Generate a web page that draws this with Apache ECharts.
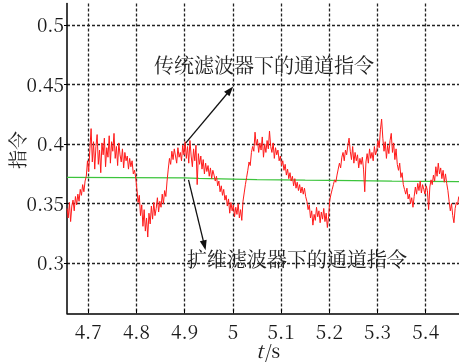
<!DOCTYPE html>
<html>
<head>
<meta charset="utf-8">
<script src="https://cdn.jsdelivr.net/npm/echarts@6/dist/echarts.min.js"></script>
<style>
  html, body { margin: 0; padding: 0; background: #fff; }
  #chart { width: 459px; height: 362px; }
</style>
</head>
<body>
<div id="chart"></div>
<script>
// Sampling grid of the traditional-filter channel command (seconds)
var tStart = 4.656;
var tStep = 0.0025;

// Channel command under the traditional filter (red, noisy)
var traditionalCmd = [
  0.346, 0.338, 0.351, 0.335, 0.348, 0.353, 0.344, 0.356, 0.349, 0.358,
  0.352, 0.362, 0.357, 0.366, 0.360, 0.369, 0.373, 0.386, 0.377, 0.396,
  0.413, 0.385, 0.402, 0.379, 0.398, 0.408, 0.383, 0.395, 0.376, 0.401,
  0.391, 0.405, 0.381, 0.397, 0.389, 0.407, 0.384, 0.402, 0.394, 0.409,
  0.388, 0.398, 0.382, 0.401, 0.391, 0.385, 0.396, 0.380, 0.393, 0.386,
  0.390, 0.379, 0.388, 0.381, 0.386, 0.375, 0.378, 0.372, 0.362, 0.351,
  0.357, 0.340, 0.349, 0.331, 0.345, 0.327, 0.338, 0.322, 0.342, 0.333,
  0.348, 0.337, 0.351, 0.340, 0.346, 0.355, 0.343, 0.352, 0.347, 0.358,
  0.350, 0.361, 0.356, 0.369, 0.379, 0.388, 0.383, 0.394, 0.387, 0.396,
  0.390, 0.384, 0.397, 0.389, 0.393, 0.386, 0.399, 0.391, 0.402, 0.388,
  0.398, 0.384, 0.403, 0.390, 0.381, 0.396, 0.386, 0.399, 0.366, 0.392,
  0.383, 0.390, 0.379, 0.387, 0.375, 0.384, 0.377, 0.382, 0.373, 0.380,
  0.371, 0.378, 0.374, 0.369, 0.373, 0.365, 0.369, 0.360, 0.365, 0.357,
  0.362, 0.353, 0.357, 0.348, 0.354, 0.342, 0.351, 0.344, 0.349, 0.339,
  0.347, 0.341, 0.350, 0.338, 0.345, 0.336, 0.352, 0.359, 0.366, 0.372,
  0.378, 0.385, 0.382, 0.393, 0.398, 0.394, 0.410, 0.399, 0.404, 0.393,
  0.401, 0.395, 0.406, 0.389, 0.400, 0.393, 0.403, 0.396, 0.411, 0.398,
  0.393, 0.401, 0.388, 0.397, 0.391, 0.395, 0.386, 0.390, 0.382, 0.386,
  0.378, 0.383, 0.374, 0.379, 0.371, 0.376, 0.369, 0.373, 0.365, 0.371,
  0.363, 0.368, 0.361, 0.366, 0.359, 0.364, 0.358, 0.363, 0.356, 0.352,
  0.345, 0.349, 0.338, 0.344, 0.332, 0.341, 0.336, 0.347, 0.339, 0.344,
  0.334, 0.343, 0.337, 0.346, 0.335, 0.342, 0.330, 0.339, 0.353, 0.358,
  0.362, 0.366, 0.370, 0.368, 0.374, 0.379, 0.384, 0.380, 0.389, 0.393,
  0.386, 0.395, 0.391, 0.399, 0.405, 0.394, 0.387, 0.398, 0.384, 0.393,
  0.386, 0.391, 0.380, 0.388, 0.383, 0.389, 0.379, 0.360, 0.385, 0.392,
  0.384, 0.396, 0.388, 0.393, 0.386, 0.398, 0.391, 0.395, 0.403, 0.397,
  0.412, 0.421, 0.405, 0.394, 0.402, 0.388, 0.399, 0.392, 0.403, 0.409,
  0.393, 0.401, 0.387, 0.396, 0.383, 0.378, 0.384, 0.372, 0.376, 0.366,
  0.362, 0.358, 0.363, 0.354, 0.358, 0.350, 0.355, 0.347, 0.356, 0.364,
  0.358, 0.367, 0.361, 0.369, 0.359, 0.366, 0.362, 0.358, 0.365, 0.361,
  0.345, 0.364, 0.370, 0.366, 0.374, 0.369, 0.381, 0.373, 0.384, 0.375,
  0.380, 0.371, 0.378, 0.368, 0.375, 0.367, 0.361, 0.352, 0.344, 0.350,
  0.340, 0.334, 0.346, 0.351, 0.349, 0.356
];

// Channel command under the extended-dimension filter (green, smooth)
var extendedTimes = [4.656, 4.90, 4.93, 5.00, 5.05, 5.15, 5.25, 5.33, 5.40, 5.469];
var extendedCmd   = [0.3720, 0.3716, 0.3712, 0.3706, 0.3702, 0.3697, 0.3694, 0.3690, 0.3688, 0.3685];

// Axis ticks
var xTicks = [4.7, 4.8, 4.9, 5.0, 5.1, 5.2, 5.3, 5.4];
var yTicks = [0.3, 0.35, 0.4, 0.45, 0.5];

// Annotation labels and arrows (data coordinates)
var labelTop = { text: '传统滤波器下的通道指令', at: [5.0645, 0.4664] };
var labelBottom = { text: '扩维滤波器下的通道指令', at: [5.133, 0.3029] };
var arrowTop = { from: [4.9025, 0.4010], to: [4.994, 0.4452] };
var arrowBottom = { from: [4.908, 0.3700], to: [4.941, 0.3150] };

var redData = traditionalCmd.map(function (v, i) {
  return [+(tStart + i * tStep).toFixed(4), v];
});
var greenData = extendedTimes.map(function (t, i) { return [t, extendedCmd[i]]; });

var SERIF = 'Noto Serif CJK SC';
var CJK = 'Noto Serif CJK SC';
var gridDash = { color: '#222', width: 1.3, type: [3, 2] };

function tickLabel(values, margin) {
  return {
    customValues: values,
    margin: margin,
    fontFamily: SERIF,
    fontSize: 19,
    color: '#1a1a1a',
    formatter: function (v) { return String(+v.toFixed(2)); }
  };
}

function arrowLine(a) {
  return [{ coord: a.from, symbol: 'none' }, { coord: a.to, symbol: 'triangle' }];
}

function textPoint(l) {
  return {
    coord: l.at,
    symbol: 'circle', symbolSize: 0,
    label: { show: true, position: 'inside', formatter: l.text,
      fontFamily: CJK, fontSize: 20, color: '#222' }
  };
}

var chart = echarts.init(document.getElementById('chart'));

chart.setOption({
  animation: false,
  backgroundColor: '#fff',
  grid: { left: 67, right: 0, top: 3.5, bottom: 48.7, containLabel: false },
  xAxis: {
    type: 'value',
    min: 4.656, max: 5.469,
    axisLine: { onZero: false, lineStyle: { color: '#000', width: 1.5 } },
    axisTick: { inside: true, length: 4, customValues: xTicks, lineStyle: { color: '#000' } },
    axisLabel: tickLabel(xTicks, 9),
    splitLine: { show: true, lineStyle: gridDash }
  },
  yAxis: {
    type: 'value',
    min: 0.258, max: 0.518,
    axisLine: { show: true, onZero: false, lineStyle: { color: '#000', width: 1.5 } },
    axisTick: { show: true, inside: false, length: 3, customValues: yTicks, lineStyle: { color: '#000' } },
    axisLabel: tickLabel(yTicks, 3),
    splitLine: { show: true, lineStyle: gridDash }
  },
  series: [
    {
      name: '扩维滤波器下的通道指令',
      type: 'line',
      data: greenData,
      symbol: 'none',
      lineStyle: { color: '#3cc43c', width: 1.3 },
      z: 3
    },
    {
      name: '传统滤波器下的通道指令',
      type: 'line',
      data: redData,
      symbol: 'none',
      lineStyle: { color: '#ff1a1a', width: 1 },
      z: 4,
      markLine: {
        silent: true,
        symbolSize: [7, 10],
        lineStyle: { color: '#111', width: 1.3, type: 'solid' },
        label: { show: false },
        emphasis: { disabled: true },
        data: [arrowLine(arrowTop), arrowLine(arrowBottom)]
      },
      markPoint: {
        silent: true,
        data: [textPoint(labelTop), textPoint(labelBottom)]
      }
    }
  ],
  graphic: [
    { type: 'text', x: 18, y: 150, rotation: Math.PI / 2, z: 10,
      style: { text: '指令', fill: '#222', fontFamily: CJK, fontSize: 19,
        align: 'center', verticalAlign: 'middle' } },
    // axis name "t/s" with an italic t
    { type: 'text', x: 263, y: 351, z: 10,
      style: { text: 't', fill: '#1a1a1a', fontFamily: SERIF, fontSize: 19, fontStyle: 'italic',
        align: 'right', verticalAlign: 'middle' } },
    { type: 'text', x: 265, y: 351, z: 10,
      style: { text: '/s', fill: '#1a1a1a', fontFamily: SERIF, fontSize: 19,
        align: 'left', verticalAlign: 'middle' } }
  ]
});
</script>
</body>
</html>
